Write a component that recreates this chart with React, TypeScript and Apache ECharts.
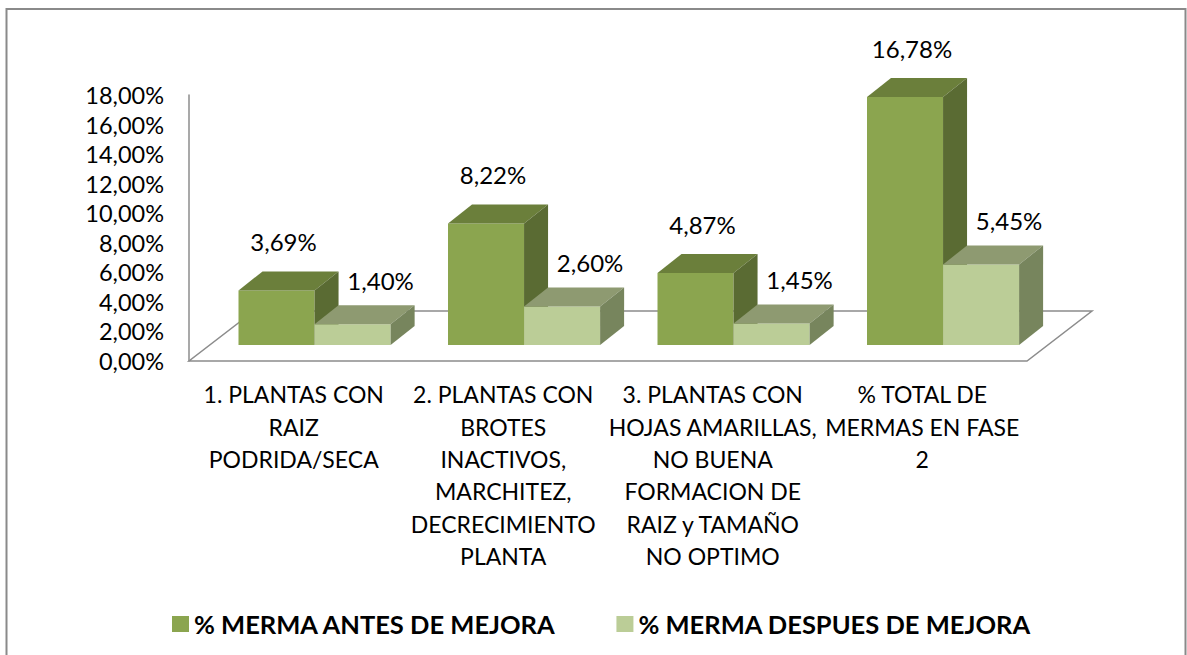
import React, { useEffect, useRef } from "react";
import * as echarts from "echarts";

const categories = [
  "1. PLANTAS CON\nRAIZ\nPODRIDA/SECA",
  "2. PLANTAS CON\nBROTES\nINACTIVOS,\nMARCHITEZ,\nDECRECIMIENTO\nPLANTA",
  "3. PLANTAS CON\nHOJAS AMARILLAS,\nNO BUENA\nFORMACION DE\nRAIZ y TAMAÑO\nNO OPTIMO",
  "% TOTAL DE\nMERMAS EN FASE\n2",
];
const seriesNames = ["% MERMA ANTES DE MEJORA", "% MERMA DESPUES DE MEJORA"];
const antes = [3.69, 8.22, 4.87, 16.78];
const despues = [1.4, 2.6, 1.45, 5.45];
const yMin = 0;
const yMax = 18;
const yStep = 2;

const FONT = "Lato, 'Open Sans', sans-serif";
const fmt = (v: number) => v.toFixed(2).replace(".", ",") + "%";

// face colours: [front, top, side]
const faces = [
  ["#8BA54F", "#6B7F3B", "#5A6B33"],
  ["#BBCD97", "#8E9A71", "#77855D"],
];
const legendColors = ["#8BA54F", "#BBCD97"];

// 3D geometry
const FLOOR_DX = 65;
const FLOOR_DY = -50;
const BAR_INSET = 0.32;
const BAR_DX = 24;
const BAR_DY = -19;
const BAR_FRAC = 0.363;
const LABEL_OFF = [
  [7, -49],
  [28, -44],
];

function makeBarRender(s: number) {
  return (params: any, api: any) => {
    const i = api.value(0);
    const v = api.value(1);
    const base = api.coord([i, 0]);
    const top = api.coord([i, v]);
    const cs = params.coordSys;
    const band = cs.width / categories.length;
    const w = band * BAR_FRAC;
    const ox = FLOOR_DX * BAR_INSET;
    const oy = FLOOR_DY * BAR_INSET;
    const x0 = base[0] - w + s * w + ox;
    const x1 = x0 + w;
    const yb = base[1] + oy;
    const yt = top[1] + oy;
    const [cf, ct, cside] = faces[s];
    return {
      type: "group",
      children: [
        {
          type: "polygon",
          shape: { points: [[x0, yb], [x1, yb], [x1, yt], [x0, yt]] },
          style: { fill: cf },
        },
        {
          type: "polygon",
          shape: {
            points: [[x0, yt], [x1, yt], [x1 + BAR_DX, yt + BAR_DY], [x0 + BAR_DX, yt + BAR_DY]],
          },
          style: { fill: ct },
        },
        {
          type: "polygon",
          shape: {
            points: [[x1, yb], [x1 + BAR_DX, yb + BAR_DY], [x1 + BAR_DX, yt + BAR_DY], [x1, yt]],
          },
          style: { fill: cside },
        },
        {
          type: "text",
          style: {
            text: fmt(v),
            x: (x0 + x1) / 2 + LABEL_OFF[s][0],
            y: yt + LABEL_OFF[s][1],
            align: "center",
            verticalAlign: "middle",
            fontSize: 24,
            fontFamily: FONT,
            fill: "#000",
          },
        },
      ],
    };
  };
}

function renderFloor(params: any) {
  const cs = params.coordSys;
  const x0 = cs.x;
  const x1 = cs.x + cs.width;
  const y = cs.y + cs.height;
  return {
    type: "polygon",
    shape: {
      points: [
        [x0, y],
        [x1, y],
        [x1 + FLOOR_DX, y + FLOOR_DY],
        [x0 + FLOOR_DX, y + FLOOR_DY],
      ],
    },
    style: { fill: "none", stroke: "#8C8C8C", lineWidth: 1.5 },
  };
}

export default function App() {
  const ref = useRef<HTMLDivElement>(null);
  useEffect(() => {
    document.body.style.margin = "0";
    const chart = echarts.init(ref.current!, null, { renderer: "svg" });
    chart.setOption({
      animation: false,
      backgroundColor: "#fff",
      graphic: [
        {
          type: "rect",
          shape: { x: 6.5, y: 9, width: 1179, height: 660 },
          style: { fill: "none", stroke: "#8A8A8A", lineWidth: 2 },
          z: 0,
        },
      ],
      grid: { left: 189, right: 160, top: 95, bottom: 294 },
      xAxis: {
        type: "category",
        data: categories,
        axisLine: { show: false },
        axisTick: { show: false },
        splitLine: { show: false },
        axisLabel: {
          interval: 0,
          margin: 17,
          fontSize: 23,
          lineHeight: 32.4,
          fontFamily: FONT,
          color: "#000",
          align: "center",
        },
      },
      yAxis: {
        type: "value",
        min: yMin,
        max: yMax,
        interval: yStep,
        axisLine: { show: true, lineStyle: { color: "#8C8C8C", width: 1.5 } },
        axisTick: { show: false },
        splitLine: { show: false },
        axisLabel: {
          formatter: (v: number) => fmt(v),
          margin: 25,
          fontSize: 23.5,
          fontFamily: FONT,
          color: "#000",
        },
      },
      legend: {
        data: seriesNames,
        left: 167,
        top: 606,
        icon: "rect",
        itemWidth: 17,
        itemHeight: 16,
        itemGap: 60,
        textStyle: {
          fontSize: 25.5,
          fontWeight: "bold",
          fontFamily: FONT,
          color: "#000",
        },
      },
      series: [
        {
          name: "floor",
          type: "custom",
          z: 1,
          renderItem: renderFloor,
          data: [[0, 0]],
          silent: true,
        },
        {
          name: seriesNames[0],
          type: "custom",
          z: 2,
          itemStyle: { color: legendColors[0] },
          renderItem: makeBarRender(0),
          encode: { x: 0, y: 1 },
          data: antes.map((v, i) => [i, v]),
        },
        {
          name: seriesNames[1],
          type: "custom",
          z: 3,
          itemStyle: { color: legendColors[1] },
          renderItem: makeBarRender(1),
          encode: { x: 0, y: 1 },
          data: despues.map((v, i) => [i, v]),
        },
      ],
    });
    return () => chart.dispose();
  }, []);
  return <div ref={ref} style={{ width: 1187, height: 655 }} />;
}
